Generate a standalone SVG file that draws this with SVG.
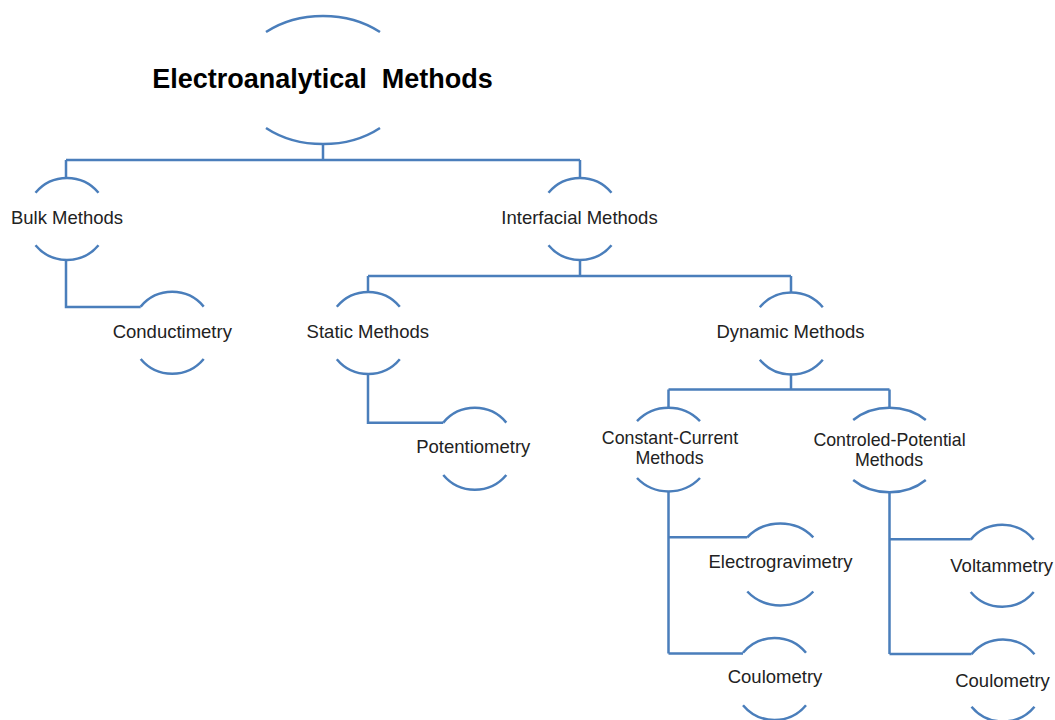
<svg xmlns="http://www.w3.org/2000/svg" xmlns:xlink="http://www.w3.org/1999/xlink" width="1055" height="720" viewBox="0 0 1055 720">
<style>
.arc{fill:none;stroke:#4a7ebb;stroke-width:2.5}
.con{fill:none;stroke:#4a7ebb;stroke-width:2.5}
.lbl{font-family:"Liberation Sans",Arial,sans-serif;font-size:18.5px;fill:#222;text-anchor:middle}
.lbl2{font-size:17.8px}
.ttl{font-family:"Liberation Sans",Arial,sans-serif;font-size:27px;font-weight:bold;fill:#000;text-anchor:middle}
</style>
<defs>
<path id="c41" d="M-31.5 -26.2 A41 41 0 0 1 31.5 -26.2 M-31.5 26.2 A41 41 0 0 0 31.5 26.2"/>
</defs>
<rect width="1055" height="720" fill="#fff"/>
<g id="connectors">
<path class="con" d="M323 144 V160 M66 160 H580 M66 160 V178 M580 160 V178"/>
<path class="con" d="M66 259.5 V307 H140.7"/>
<path class="con" d="M580 259.5 V276 M368 276 H791 M368 276 V292.5 M791 276 V292.5"/>
<path class="con" d="M368 373.5 V422.7 H443.3"/>
<path class="con" d="M791 373.5 V389.5 M668.5 389.5 H889.5 M668.5 389.5 V407.5 M889.5 389.5 V407.7"/>
<path class="con" d="M668.5 491.5 V653.5 M668.5 537.3 H747.3 M668.5 653.5 H743"/>
<path class="con" d="M889.5 492.3 V654 M889.5 539.3 H970.7 M889.5 654 H971.5"/>
</g>
<g id="n-title">
<path class="arc" d="M266 32 A86 64 0 0 1 380 32 M266 128 A86 64 0 0 0 380 128"/>
<text class="ttl" x="322.5" y="88" xml:space="preserve">Electroanalytical  Methods</text>
</g>
<g id="n-bulk">
<use class="arc" xlink:href="#c41" href="#c41" x="67" y="219"/>
<text class="lbl" x="67" y="224.3">Bulk Methods</text>
</g>
<g id="n-interfacial">
<use class="arc" xlink:href="#c41" href="#c41" x="580" y="219"/>
<text class="lbl" x="579.5" y="224.3">Interfacial Methods</text>
</g>
<g id="n-conductimetry">
<use class="arc" xlink:href="#c41" href="#c41" x="172.2" y="332.8"/>
<text class="lbl" x="172.3" y="338.3">Conductimetry</text>
</g>
<g id="n-static">
<use class="arc" xlink:href="#c41" href="#c41" x="368.3" y="333"/>
<text class="lbl" x="367.8" y="338.2">Static Methods</text>
</g>
<g id="n-dynamic">
<use class="arc" xlink:href="#c41" href="#c41" x="791.3" y="333.5"/>
<text class="lbl" x="790.5" y="338.3">Dynamic Methods</text>
</g>
<g id="n-potentiometry">
<use class="arc" xlink:href="#c41" href="#c41" x="474.8" y="448.8"/>
<text class="lbl" x="473.3" y="453.3">Potentiometry</text>
</g>
<g id="n-constant-current">
<path class="arc" d="M637 421.2 A43 42 0 0 1 700 421.2 M637 478 A43 42 0 0 0 700 478"/>
<text class="lbl lbl2"><tspan x="670" y="443.5">Constant-Current</tspan><tspan x="669.5" y="463.5">Methods</tspan></text>
</g>
<g id="n-controled-potential">
<path class="arc" d="M853.2 420 A51.5 42.3 0 0 1 925.8 420 M853.2 480 A51.5 42.3 0 0 0 925.8 480"/>
<text class="lbl lbl2"><tspan x="889.5" y="445.5">Controled-Potential</tspan><tspan x="889" y="465.5">Methods</tspan></text>
</g>
<g id="n-electrogravimetry">
<path class="arc" d="M747.3 537.3 A44 41 0 0 1 813.3 537.3 M747.3 591.5 A44 41 0 0 0 813.3 591.5"/>
<text class="lbl" x="780.5" y="568.3">Electrogravimetry</text>
</g>
<g id="n-coulometry-1">
<use class="arc" xlink:href="#c41" href="#c41" x="774.5" y="679"/>
<text class="lbl" x="775" y="683.3">Coulometry</text>
</g>
<g id="n-voltammetry">
<use class="arc" xlink:href="#c41" href="#c41" x="1002.2" y="565.8"/>
<text class="lbl" x="1001.7" y="571.7">Voltammetry</text>
</g>
<g id="n-coulometry-2">
<use class="arc" xlink:href="#c41" href="#c41" x="1003" y="680.5"/>
<text class="lbl" x="1002.5" y="687.3">Coulometry</text>
</g>
</svg>
